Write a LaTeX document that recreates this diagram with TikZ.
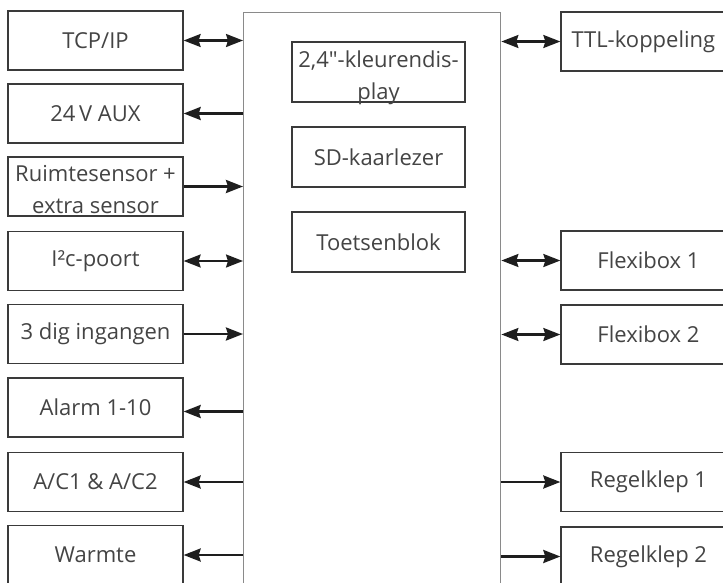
\documentclass[tikz,border=0pt]{standalone}
\usepackage{fontspec}
\setmainfont{Open Sans}[Ligatures=TeXOff]
\usetikzlibrary{arrows.meta}
\definecolor{boxline}{HTML}{3A3A3A}
\definecolor{mainline}{HTML}{8A8A8A}
\definecolor{txt}{HTML}{444444}
\definecolor{arr}{HTML}{1E1E1E}
\tikzset{
  unit/.style={draw=boxline, line width=1.3pt, minimum width=175pt, minimum height=59pt,
    inner sep=0pt},
  inner/.style={unit, minimum width=173pt, minimum height=60pt},
  caption/.style={inner sep=0pt, align=center, text=txt,
    font=\fontsize{22}{32.5}\selectfont},
  tip/.style={Stealth[length=17pt,width=13pt,inset=2pt]},
  link/.style={draw=arr, line width=2.6pt, arrows={-Stealth[length=17pt,width=13pt,inset=2pt]}},
  both/.style={draw=arr, line width=2.2pt,
    arrows={Stealth[length=17pt,width=13pt,inset=2pt]-Stealth[length=17pt,width=13pt,inset=2pt]}},
  back/.style={draw=arr, line width=2.6pt, arrows={Stealth[length=17pt,width=13pt,inset=2pt]-}},
}
\begin{document}
\begin{tikzpicture}[x=1pt, y=-1pt]
\useasboundingbox (0,0) rectangle (723,582);
\clip (0,0) rectangle (723,582);
\fill[white] (0,0) rectangle (723,582);

% controller body
\node[draw=mainline, line width=1.4pt, minimum width=257pt, minimum height=608pt,
      inner sep=0pt, anchor=north west] (main) at (243,12) {};

% built-in parts
\node[inner] (disp) at (378.5,72) {};
\node[inner] (sd)   at (378.5,157) {};
\node[inner] (keys) at (378.5,242) {};
\node[caption] (disp-t) at ([yshift=-6pt]disp.center) {2,4"-kleurendis-\\play};
\node[caption] (sd-t)   at (sd.center)   {SD-kaarlezer};
\node[caption] (keys-t) at (keys.center) {Toetsenblok};

% left column
\node[unit] (tcp)   at (95.5,40.5)  {};
\node[unit] (aux)   at (95.5,113.5) {};
\node[unit] (sens)  at (95.5,186.5) {};
\node[unit] (i2c)   at (95.5,261)   {};
\node[unit] (dig)   at (95.5,334)   {};
\node[unit] (alarm) at (95.5,407.5) {};
\node[unit] (ac)    at (95.5,482)   {};
\node[unit] (heat)  at (95.5,555)   {};
\node[caption] (tcp-t)   at (tcp.center)   {TCP/IP};
\node[caption] (aux-t)   at (aux.center)   {24\,V AUX};
\node[caption] (sens-t)  at ([yshift=-3pt]sens.center)  {Ruimtesensor +\\extra sensor};
\node[caption] (i2c-t)   at (i2c.center)   {I²c-poort};
\node[caption] (dig-t)   at (dig.center)   {3 dig ingangen};
\node[caption] (alarm-t) at (alarm.center) {Alarm 1-10};
\node[caption] (ac-t)    at (ac.center)    {A/C1 \& A/C2};
\node[caption] (heat-t)  at (heat.center)  {Warmte};

% right column
\node[unit] (ttl)  at (648.5,41.5)  {};
\node[unit] (fx1)  at (648.5,260.5) {};
\node[unit] (fx2)  at (648.5,334.5) {};
\node[unit] (rk1)  at (648.5,482)   {};
\node[unit] (rk2)  at (648.5,556.5) {};
\node[caption, anchor=west] (ttl-t) at ([xshift=11pt]ttl.west) {TTL-koppeling};
\node[caption] (fx1-t) at (fx1.center) {Flexibox 1};
\node[caption] (fx2-t) at (fx2.center) {Flexibox 2};
\node[caption] (rk1-t) at (rk1.center) {Regelklep 1};
\node[caption] (rk2-t) at (rk2.center) {Regelklep 2};

% left connections
\draw[both] (tcp.east) -- (tcp.east -| main.west);
\draw[back] (aux.east) -- (aux.east -| main.west);
\draw[link] (sens.east) -- (sens.east -| main.west);
\draw[both] (i2c.east) -- (i2c.east -| main.west);
\draw[link] (dig.east) -- (dig.east -| main.west);
\draw[back] ([yshift=-4pt]alarm.east) -- ([yshift=-4pt]alarm.east -| main.west);
\draw[back] (ac.east) -- (ac.east -| main.west);
\draw[back] (heat.east) -- (heat.east -| main.west);

% right connections
\draw[both] (ttl.west -| main.east) -- (ttl.west);
\draw[both] (fx1.west -| main.east) -- (fx1.west);
\draw[both] (fx2.west -| main.east) -- (fx2.west);
\draw[link] (rk1.west -| main.east) -- (rk1.west);
\draw[link] (rk2.west -| main.east) -- (rk2.west);
\end{tikzpicture}
\end{document}
